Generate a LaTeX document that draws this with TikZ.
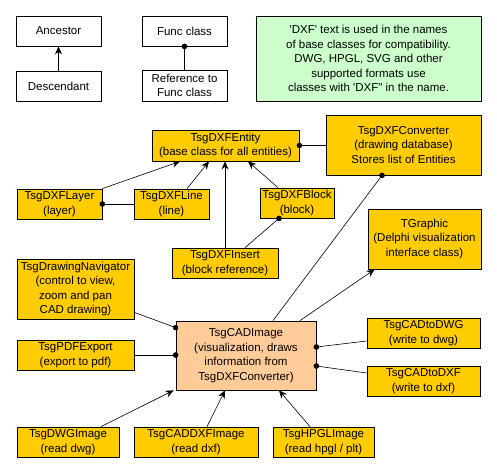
\documentclass[tikz,border=0pt]{standalone}
\usepackage{fontspec}
\setmainfont{Liberation Sans}
\usepackage{xcolor}
\usepackage{tikz}
\usetikzlibrary{arrows.meta}
\definecolor{clsyellow}{HTML}{FFCC00}
\definecolor{imgpeach}{HTML}{FFCC99}
\definecolor{notegreen}{HTML}{CCFFCC}
\tikzset{box/.style 2 args={draw,line width=0.8pt,inner sep=0pt,align=center,
           minimum width=#1pt,minimum height=#2pt,
           font=\fontsize{11.5}{14.5}\selectfont},
         cls/.style={fill=clsyellow},
         inherits/.style={line width=0.6pt,-{Stealth[length=8pt,width=7pt]}},
         refers/.style={line width=0.6pt,{Circle[length=5.5pt]}-,shorten <=-2.75pt}}

\begin{document}
\begin{tikzpicture}[x=1pt,y=-1pt]
\useasboundingbox (0,0) rectangle (497,474);
\node[box={85}{30},fill=white] (anc) at (58.5,31) {Ancestor};
\node[box={85}{30},fill=white] (desc) at (58.5,86) {Descendant};
\node[box={85}{30},fill=white] (func) at (184.5,31) {Func class};
\node[box={85}{31},fill=white] (fref) at (184.5,85.5) {Reference to\\Func class};
\node[box={225}{85},fill=notegreen] (note) at (368.5,58.5)
  {\textquotesingle DXF\textquotesingle{} text is used in the names\\of base classes for compatibility.\\DWG, HPGL, SVG and other\\supported formats use\\classes with \textquotesingle DXF\textquotedbl{} in the name.};
\node[box={147}{31},cls] (ent) at (225.5,145.5) {TsgDXFEntity\\(base class for all entities)};
\node[box={155}{60},cls] (conv) at (403.5,145) {TsgDXFConverter\\(drawing database)\\Stores list of Entities};
\node[box={85}{30},cls] (layer) at (59.5,204) {TsgDXFLayer\\(layer)};
\node[box={75}{30},cls] (line) at (171.5,204) {TsgDXFLine\\(line)};
\node[box={74}{30},cls] (block) at (297,203) {TsgDXFBlock\\(block)};
\node[box={106}{30},cls] (insert) at (225,263) {TsgDXFInsert\\(block reference)};
\node[box={113}{60},cls] (tgraph) at (424.5,239) {TGraphic\\(Delphi visualization\\interface class)};
\node[box={117}{60},cls] (nav) at (75.5,289) {TsgDrawingNavigator\\(control to view,\\zoom and pan\\CAD drawing)};
\node[box={117}{30},cls] (pdf) at (75.5,355) {TsgPDFExport\\(export to pdf)};
\node[box={140}{69},fill=imgpeach] (img) at (246,355.5) {TsgCADImage\\(visualization, draws\\information from\\TsgDXFConverter)};
\node[box={113}{30},cls] (todwg) at (423.5,333) {TsgCADtoDWG\\(write to dwg)};
\node[box={113}{30},cls] (todxf) at (423.5,381) {TsgCADtoDXF\\(write to dxf)};
\node[box={102}{30},cls] (dwgimg) at (68,442) {TsgDWGImage\\(read dwg)};
\node[box={124}{30},cls] (dxfimg) at (196,442) {TsgCADDXFImage\\(read dxf)};
\node[box={101}{30},cls] (hpgl) at (323.5,442) {TsgHPGLImage\\(read hpgl / plt)};
\draw[inherits] (desc.north) -- (anc.south);
\draw[refers] (func.south) -- (fref.north);
\draw[refers] (ent.east) -- (ent.east -| conv.west);
\draw[inherits] (layer.north east) -- ([xshift=-45.5pt]ent.south);
\draw[inherits] ([xshift=15.5pt]line.north) -- ([xshift=-16.5pt]ent.south);
\draw[inherits] (insert.north) -- (insert.north |- ent.south);
\draw[inherits] ([xshift=-19pt]block.north) -- ([xshift=22.5pt]ent.south);
\draw[refers] (layer.east) -- (line.west);
\draw[refers] ([xshift=-18pt]block.south) -- ([xshift=20pt]insert.north);
\draw[refers] ([xshift=-21.5pt]conv.south) -- ([xshift=27pt]img.north);
\draw[inherits] ([xshift=54pt]img.north) -- ([xshift=7pt]tgraph.south west);
\draw[refers] ([yshift=-7pt]img.north west) -- ([yshift=7pt]nav.south east);
\draw[refers] (pdf.east -| img.west) -- (pdf.east);
\draw[refers] ([yshift=8.5pt]img.east) -- ([yshift=-8pt]todwg.west);
\draw[refers] ([yshift=-10.5pt]img.east) -- ([yshift=8pt]todxf.west);
\draw[inherits] ([xshift=33pt]dwgimg.north) -- ([xshift=-2pt]img.south west);
\draw[inherits] ([xshift=11pt]dxfimg.north) -- ([xshift=-21pt]img.south);
\draw[inherits] ([xshift=-13.5pt]hpgl.north) -- ([xshift=33pt]img.south);
\end{tikzpicture}
\end{document}
